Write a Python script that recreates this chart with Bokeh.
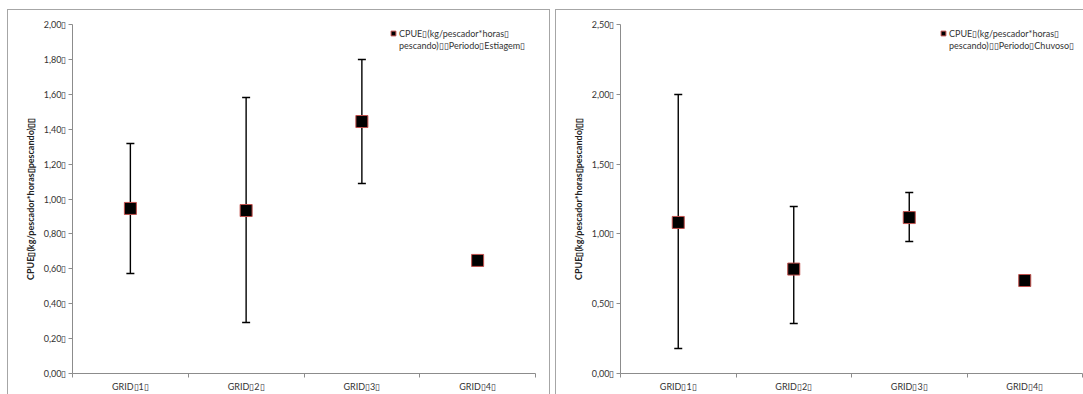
from bokeh.plotting import figure
from bokeh.models import (ColumnDataSource, Whisker, TeeHead, FixedTicker,
                          CustomJSTickFormatter, Legend, LegendItem, Range1d)
from bokeh.layouts import row
from bokeh.embed import file_html
from bokeh.resources import INLINE

BOX = "\u25AF"

categories = [f"GRID{BOX}1{BOX}", f"GRID{BOX}2{BOX}", f"GRID{BOX}3{BOX}", f"GRID{BOX}4{BOX}"]

dry_mean = [0.946, 0.934, 1.444, 0.648]
dry_upper = [1.318, 1.582, 1.799, 0.648]
dry_lower = [0.573, 0.292, 1.089, 0.648]
dry_ticks = [0.0, 0.2, 0.4, 0.6, 0.8, 1.0, 1.2, 1.4, 1.6, 1.8, 2.0]
dry_legend = [f"CPUE{BOX}(kg/pescador*horas{BOX}", f"pescando){BOX}{BOX}Periodo{BOX}Estiagem{BOX}"]

wet_mean = [1.082, 0.748, 1.117, 0.666]
wet_upper = [1.999, 1.196, 1.297, 0.666]
wet_lower = [0.179, 0.358, 0.946, 0.666]
wet_ticks = [0.0, 0.5, 1.0, 1.5, 2.0, 2.5]
wet_legend = [f"CPUE{BOX}(kg/pescador*horas{BOX}", f"pescando){BOX}{BOX}Periodo{BOX}Chuvoso{BOX}"]

y_label = f"CPUE{BOX}(kg/pescador*horas{BOX}pescando){BOX}{BOX}"

FONT = "Lato"
AXIS_COLOR = "#8c8c8c"
TEXT_COLOR = "#333333"


def make_panel(mean, upper, lower, ticks, legend_lines, width, border_right, legend_x):
    n = len(categories)
    xs = list(range(1, n + 1))
    src = ColumnDataSource(dict(x=xs, y=mean, upper=upper, lower=lower))
    p = figure(width=width, height=384, output_backend="svg", toolbar_location=None,
               x_range=Range1d(0.5, n + 0.5), y_range=Range1d(ticks[0], ticks[-1]),
               min_border_left=64, min_border_right=border_right,
               min_border_top=14, min_border_bottom=21)
    p.styles = {"outline": "1px solid #a6a6a6", "outline-offset": "0px"}
    p.outline_line_color = None
    p.grid.visible = False
    p.background_fill_color = "white"
    p.border_fill_color = "white"

    wh = Whisker(source=src, base="x", upper="upper", lower="lower",
                 line_color="black", line_width=1.4,
                 upper_head=TeeHead(size=8, line_color="black", line_width=1.4),
                 lower_head=TeeHead(size=8, line_color="black", line_width=1.4))
    p.add_layout(wh)

    r = p.scatter("x", "y", source=src, marker="square", size=12,
                  fill_color="black", line_color="#c0504d", line_width=1)
    ghost = p.scatter(x=[], y=[], marker="square", size=1, fill_alpha=0, line_alpha=0)

    xa = p.xaxis[0]
    xa.ticker = FixedTicker(ticks=xs, minor_ticks=[x - 0.5 for x in xs] + [n + 0.5])
    xa.major_label_overrides = {x: c for x, c in zip(xs, categories)}
    xa.major_tick_out = 0
    xa.major_tick_in = 0
    xa.minor_tick_out = 4
    xa.minor_tick_in = 0
    xa.minor_tick_line_color = AXIS_COLOR
    xa.axis_line_color = AXIS_COLOR
    xa.major_label_text_font = FONT
    xa.major_label_text_font_size = "9px"
    xa.major_label_text_color = TEXT_COLOR
    xa.major_label_standoff = 3

    ya = p.yaxis[0]
    ya.ticker = FixedTicker(ticks=ticks, minor_ticks=[])
    ya.formatter = CustomJSTickFormatter(code="return tick.toFixed(2).replace('.', ',') + '\u25AF';")
    ya.major_tick_out = 4
    ya.major_tick_in = 0
    ya.major_tick_line_color = AXIS_COLOR
    ya.axis_line_color = AXIS_COLOR
    ya.major_label_text_font = FONT
    ya.major_label_text_font_size = "9px"
    ya.major_label_text_color = TEXT_COLOR
    ya.major_label_standoff = 2
    ya.axis_label = y_label
    ya.axis_label_text_font = FONT
    ya.axis_label_text_font_size = "9px"
    ya.axis_label_text_font_style = "bold"
    ya.axis_label_text_color = "#222222"
    ya.axis_label_standoff = 5

    legend = Legend(items=[LegendItem(label=legend_lines[0], renderers=[r]),
                           LegendItem(label=legend_lines[1], renderers=[ghost])],
                    location=(legend_x, 322), orientation="vertical",
                    padding=0, margin=0, spacing=0,
                    glyph_width=12, glyph_height=12, label_height=12,
                    label_standoff=-2,
                    label_text_font=FONT, label_text_font_size="9px",
                    label_text_color=TEXT_COLOR,
                    border_line_color=None, background_fill_alpha=0)
    p.add_layout(legend)
    return p


left = make_panel(dry_mean, dry_upper, dry_lower, dry_ticks, dry_legend, 541, 14, 315)
right = make_panel(wet_mean, wet_upper, wet_lower, wet_ticks, wet_legend, 527, 1, 317)

layout = row(left, right, spacing=7)
layout.margin = (10, 0, 0, 8)
open("out.html", "w").write(file_html(layout, INLINE))
